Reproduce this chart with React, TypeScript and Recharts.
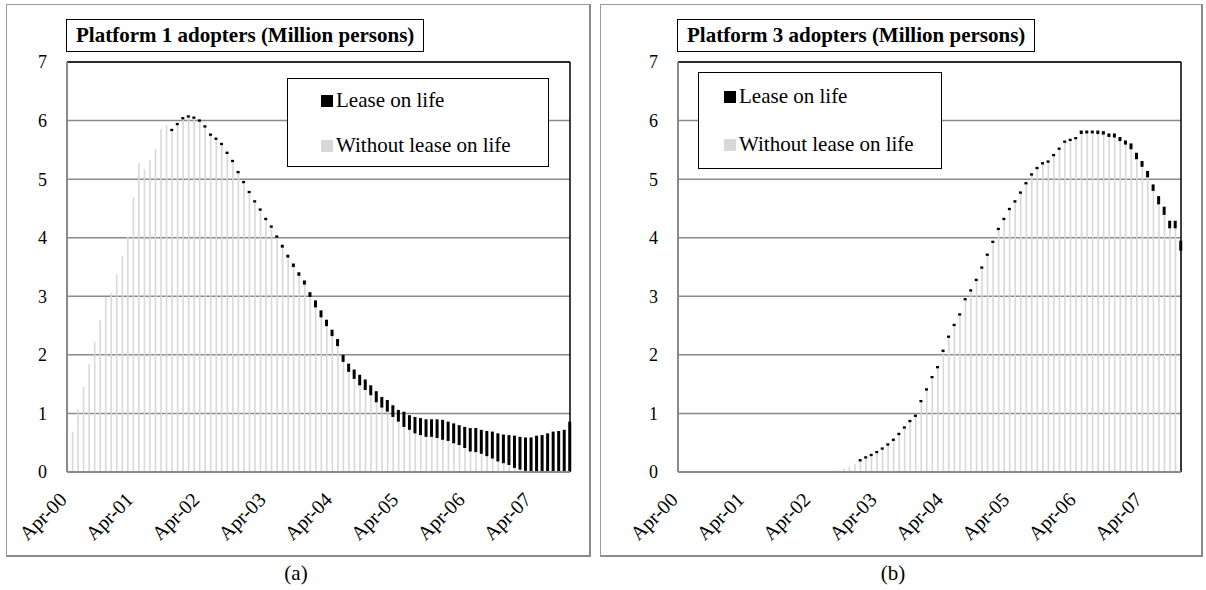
import { BarChart, Bar, XAxis, YAxis, CartesianGrid, ReferenceLine } from 'recharts';

const SERIF = "'Liberation Serif', 'Times New Roman', serif";

// month index 0 = Apr-00 ... 91 = Nov-07
const tickLabels = ['Apr-00', 'Apr-01', 'Apr-02', 'Apr-03', 'Apr-04', 'Apr-05', 'Apr-06', 'Apr-07'];
const tickIdx = [0, 12, 24, 36, 48, 60, 72, 84];
const yTicks = [0, 1, 2, 3, 4, 5, 6, 7];

// Platform 1 adopters, million persons
const withoutP1 = [
  0.3, 0.69, 1.07, 1.45, 1.84, 2.22, 2.59, 2.98, 3.05, 3.37, 3.69, 4.02, 4.69, 5.27, 5.17, 5.33, 5.52, 5.85, 5.92,
  5.82, 5.92, 6.02, 6.05, 6.03, 5.98, 5.88, 5.74, 5.67, 5.58, 5.43, 5.29, 5.1, 4.93, 4.76, 4.6, 4.46, 4.3, 4.17, 4.0,
  3.83, 3.66, 3.5, 3.35, 3.2, 2.99,
  2.81, 2.64, 2.49, 2.32, 2.15,
  1.88, 1.71, 1.59, 1.48, 1.4, 1.31, 1.19, 1.1, 1.03, 0.94,
  0.86, 0.77, 0.72, 0.66, 0.63, 0.6, 0.6, 0.58, 0.55, 0.53,
  0.49, 0.46, 0.41, 0.35, 0.34, 0.31, 0.27, 0.23, 0.18, 0.15,
  0.12, 0.07, 0.04, 0.02, 0.01, 0.01, 0.01, 0.01, 0.01, 0.01, 0.01, 0.01,
];
const leaseP1 = [
  0.3, 0.69, 1.07, 1.45, 1.84, 2.22, 2.59, 2.98, 3.05, 3.37, 3.69, 4.02, 4.69, 5.27, 5.17, 5.33, 5.52, 5.85, 5.92,
  5.86, 5.96, 6.06, 6.09, 6.07, 6.02, 5.92, 5.78, 5.71, 5.62, 5.47, 5.33, 5.14, 4.97, 4.8, 4.64, 4.5, 4.34, 4.21, 4.04,
  3.88, 3.71, 3.56, 3.41, 3.27, 3.07,
  2.93, 2.76, 2.6, 2.43, 2.27,
  2.0, 1.85, 1.75, 1.66, 1.58, 1.48, 1.38, 1.28, 1.23, 1.14,
  1.06, 1.03, 0.97, 0.94, 0.92, 0.9, 0.9, 0.9, 0.89, 0.86,
  0.83, 0.8, 0.77, 0.75, 0.75, 0.72, 0.7, 0.69, 0.66, 0.64,
  0.63, 0.62, 0.6, 0.59, 0.59, 0.62, 0.63, 0.66, 0.69, 0.7, 0.72, 0.86,
];

// Platform 3 adopters, million persons
const withoutP3 = [
  0, 0, 0, 0, 0, 0, 0, 0, 0, 0, 0, 0, 0, 0, 0, 0, 0, 0, 0, 0, 0, 0, 0, 0, 0,
  0.01, 0.01, 0.015, 0.02, 0.03, 0.06, 0.09, 0.14,
  0.18, 0.23, 0.27, 0.32, 0.38, 0.45, 0.53, 0.63, 0.74, 0.85, 0.94, 1.19, 1.39, 1.6, 1.77, 2.05, 2.29, 2.49, 2.67,
  2.93, 3.08, 3.26, 3.47, 3.69, 3.91, 4.13, 4.3, 4.47, 4.6, 4.75, 4.91, 5.06, 5.17, 5.25, 5.28, 5.39, 5.5, 5.62, 5.65, 5.68,
  5.77, 5.78, 5.78, 5.77, 5.76, 5.72, 5.71, 5.65, 5.59,
  5.51, 5.34, 5.21, 5.03, 4.8, 4.57, 4.39, 4.16, 4.16, 3.78,
];
const leaseP3 = [
  0, 0, 0, 0, 0, 0, 0, 0, 0, 0, 0, 0, 0, 0, 0, 0, 0, 0, 0, 0, 0, 0, 0, 0, 0,
  0.01, 0.01, 0.015, 0.02, 0.03, 0.06, 0.09, 0.14,
  0.22, 0.27, 0.31, 0.36, 0.42, 0.49, 0.57, 0.67, 0.78, 0.89, 0.98, 1.23, 1.43, 1.64, 1.81, 2.09, 2.33, 2.53, 2.71,
  2.97, 3.12, 3.3, 3.51, 3.73, 3.95, 4.17, 4.34, 4.51, 4.64, 4.79, 4.95, 5.1, 5.21, 5.29, 5.32, 5.43, 5.54, 5.66, 5.69, 5.72,
  5.83, 5.83, 5.83, 5.83, 5.82, 5.78, 5.78, 5.72, 5.66,
  5.61, 5.45, 5.31, 5.14, 4.91, 4.71, 4.53, 4.29, 4.29, 3.95,
];

const GRAY_BAR = '#d8d8d8';
const AXIS_GRAY = '#8a8a8a';

function MonthTick({ x, y, payload }: any) {
  const label = tickLabels[tickIdx.indexOf(payload.value)];
  const px = x + 1;
  const py = y + 29;
  return (
    <text
      x={px}
      y={py}
      transform={`rotate(-45 ${px} ${py})`}
      textAnchor="end"
      fontSize={20}
      fontFamily={SERIF}
      fill="#000"
    >
      {label}
    </text>
  );
}

function AdoptersChart({ without, lease, left }: { without: number[]; lease: number[]; left: number }) {
  const data = without.map((w, i) => ({
    idx: i,
    without: w,
    lease: lease[i] > w ? [w, lease[i]] : null,
  }));
  const last = data.length - 1;

  return (
    <div style={{ position: 'absolute', left, top: 0 }}>
      <BarChart width={600} height={560} data={data} margin={{ top: 62, right: 30, bottom: 28, left: 27 }}>
        <CartesianGrid xAxisId="g" vertical={false} stroke={AXIS_GRAY} strokeWidth={1.5} />
        {/* second x axis only so the black bars sit centred over the gray ones */}
        <XAxis xAxisId="b" type="number" dataKey="idx" domain={[0, last]} orientation="top" height={0} hide />
        <XAxis
          xAxisId="g"
          type="number"
          dataKey="idx"
          domain={[0, last]}
          ticks={tickIdx}
          interval={0}
          tick={<MonthTick />}
          tickLine={false}
          tickSize={0}
          tickMargin={0}
          height={60}
          axisLine={{ stroke: AXIS_GRAY, strokeWidth: 2 }}
        />
        <YAxis
          type="number"
          domain={[0, 7]}
          ticks={yTicks}
          interval={0}
          width={40}
          tickLine={false}
          tickSize={0}
          tickMargin={20}
          axisLine={{ stroke: AXIS_GRAY, strokeWidth: 2 }}
          tick={{ fontSize: 18, fontFamily: SERIF, fill: '#000' }}
        />
        <Bar xAxisId="g" dataKey="without" fill={GRAY_BAR} barSize={1.6} isAnimationActive={false} />
        <Bar xAxisId="b" dataKey="lease" fill="#000" barSize={3} isAnimationActive={false} />
        <ReferenceLine xAxisId="g" y={7} stroke="#000" strokeWidth={1.5} />
        <ReferenceLine xAxisId="g" x={last} stroke="#000" strokeWidth={1.5} />
      </BarChart>
    </div>
  );
}

function TitleBox({ text, left }: { text: string; left: number }) {
  return (
    <div
      style={{
        position: 'absolute',
        left,
        top: 19,
        height: 31,
        lineHeight: '31px',
        padding: '0 9px',
        border: '1.5px solid #000',
        background: '#fff',
        fontFamily: SERIF,
        fontWeight: 'bold',
        fontSize: 21,
        whiteSpace: 'nowrap',
      }}
    >
      {text}
    </div>
  );
}

function LegendBox({
  left,
  top,
  width,
  height,
  swatchX,
  rows,
}: {
  left: number;
  top: number;
  width: number;
  height: number;
  swatchX: number;
  rows: number[];
}) {
  const items = [
    { label: 'Lease on life', color: '#000' },
    { label: 'Without lease on life', color: GRAY_BAR },
  ];
  return (
    <div
      style={{
        position: 'absolute',
        left,
        top,
        width,
        height,
        boxSizing: 'border-box',
        border: '1.5px solid #000',
        background: '#fff',
      }}
    >
      {items.map((it, i) => (
        <div key={it.label}>
          <div
            style={{
              position: 'absolute',
              left: swatchX,
              top: rows[i] - 14,
              width: 12,
              height: 12,
              background: it.color,
            }}
          />
          <div
            style={{
              position: 'absolute',
              left: swatchX + 15,
              top: rows[i] - 18.6,
              fontFamily: SERIF,
              fontSize: 21,
              lineHeight: '21px',
              whiteSpace: 'nowrap',
            }}
          >
            {it.label}
          </div>
        </div>
      ))}
    </div>
  );
}

function Frame({ left, width }: { left: number; width: number }) {
  return (
    <div
      style={{
        position: 'absolute',
        left,
        top: 4,
        width,
        height: 553,
        boxSizing: 'border-box',
        borderTop: '1px solid #9a9a9a',
        borderLeft: '1px solid #9a9a9a',
        borderRight: '2px solid #8a8a8a',
        borderBottom: '2px solid #8a8a8a',
      }}
    />
  );
}

function Caption({ text, center }: { text: string; center: number }) {
  return (
    <div
      style={{
        position: 'absolute',
        left: center - 30,
        width: 60,
        top: 563,
        textAlign: 'center',
        fontFamily: SERIF,
        fontSize: 21,
        lineHeight: '21px',
      }}
    >
      {text}
    </div>
  );
}

export default function App() {
  return (
    <div style={{ position: 'relative', width: 1206, height: 590, overflow: 'hidden', background: '#fff' }}>
      <style>{'body{margin:0}'}</style>
      <Frame left={6} width={585} />
      <Frame left={600} width={603} />
      <AdoptersChart without={withoutP1} lease={leaseP1} left={0} />
      <AdoptersChart without={withoutP3} lease={leaseP3} left={611} />
      <TitleBox text="Platform 1 adopters (Million persons)" left={66} />
      <TitleBox text="Platform 3 adopters (Million persons)" left={677} />
      <LegendBox left={287} top={78} width={262} height={89} swatchX={33} rows={[30, 75]} />
      <LegendBox left={698} top={72} width={244} height={97} swatchX={25} rows={[32, 80]} />
      <Caption text="(a)" center={296} />
      <Caption text="(b)" center={893} />
    </div>
  );
}
